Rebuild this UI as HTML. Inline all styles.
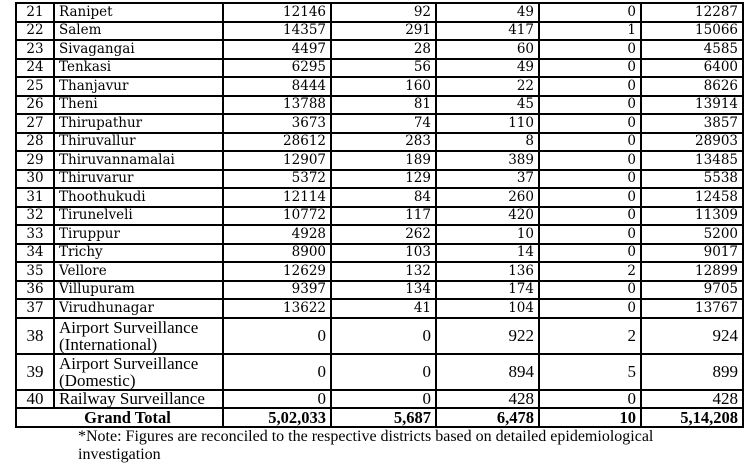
<!DOCTYPE html>
<html><head><style>
body{margin:0;width:754px;height:464px;background:#fff;overflow:hidden;position:relative}
table{position:absolute;left:15px;top:2px;border-collapse:collapse;table-layout:fixed;font-family:"DejaVu Serif","Liberation Serif",serif;font-size:13.5px;color:#000}
td{border:2px solid #000;padding:0 4px;height:16.5px;line-height:15px;white-space:nowrap;overflow:hidden}
td.n{text-align:center;padding:0}
td.r{text-align:right}
tr.b td{font-family:"Liberation Serif",serif;font-size:17px}
tr.t td{height:34px;line-height:17px}
tr.g td{font-weight:bold;height:17px;font-size:16.5px}
.note{position:absolute;left:78px;top:428px;font-family:"Liberation Serif",serif;font-size:16px;line-height:18px;color:#000;white-space:nowrap}
</style></head><body>
<table>
<colgroup><col style="width:38px"><col style="width:169px"><col style="width:108px"><col style="width:105px"><col style="width:103px"><col style="width:102px"><col style="width:102px"></colgroup>
<tr><td class="n">21</td><td>Ranipet</td><td class="r">12146</td><td class="r">92</td><td class="r">49</td><td class="r">0</td><td class="r">12287</td></tr>
<tr><td class="n">22</td><td>Salem</td><td class="r">14357</td><td class="r">291</td><td class="r">417</td><td class="r">1</td><td class="r">15066</td></tr>
<tr><td class="n">23</td><td>Sivagangai</td><td class="r">4497</td><td class="r">28</td><td class="r">60</td><td class="r">0</td><td class="r">4585</td></tr>
<tr><td class="n">24</td><td>Tenkasi</td><td class="r">6295</td><td class="r">56</td><td class="r">49</td><td class="r">0</td><td class="r">6400</td></tr>
<tr><td class="n">25</td><td>Thanjavur</td><td class="r">8444</td><td class="r">160</td><td class="r">22</td><td class="r">0</td><td class="r">8626</td></tr>
<tr><td class="n">26</td><td>Theni</td><td class="r">13788</td><td class="r">81</td><td class="r">45</td><td class="r">0</td><td class="r">13914</td></tr>
<tr><td class="n">27</td><td>Thirupathur</td><td class="r">3673</td><td class="r">74</td><td class="r">110</td><td class="r">0</td><td class="r">3857</td></tr>
<tr><td class="n">28</td><td>Thiruvallur</td><td class="r">28612</td><td class="r">283</td><td class="r">8</td><td class="r">0</td><td class="r">28903</td></tr>
<tr><td class="n">29</td><td>Thiruvannamalai</td><td class="r">12907</td><td class="r">189</td><td class="r">389</td><td class="r">0</td><td class="r">13485</td></tr>
<tr><td class="n">30</td><td>Thiruvarur</td><td class="r">5372</td><td class="r">129</td><td class="r">37</td><td class="r">0</td><td class="r">5538</td></tr>
<tr><td class="n">31</td><td>Thoothukudi</td><td class="r">12114</td><td class="r">84</td><td class="r">260</td><td class="r">0</td><td class="r">12458</td></tr>
<tr><td class="n">32</td><td>Tirunelveli</td><td class="r">10772</td><td class="r">117</td><td class="r">420</td><td class="r">0</td><td class="r">11309</td></tr>
<tr><td class="n">33</td><td>Tiruppur</td><td class="r">4928</td><td class="r">262</td><td class="r">10</td><td class="r">0</td><td class="r">5200</td></tr>
<tr><td class="n">34</td><td>Trichy</td><td class="r">8900</td><td class="r">103</td><td class="r">14</td><td class="r">0</td><td class="r">9017</td></tr>
<tr><td class="n">35</td><td>Vellore</td><td class="r">12629</td><td class="r">132</td><td class="r">136</td><td class="r">2</td><td class="r">12899</td></tr>
<tr><td class="n">36</td><td>Villupuram</td><td class="r">9397</td><td class="r">134</td><td class="r">174</td><td class="r">0</td><td class="r">9705</td></tr>
<tr><td class="n">37</td><td>Virudhunagar</td><td class="r">13622</td><td class="r">41</td><td class="r">104</td><td class="r">0</td><td class="r">13767</td></tr>
<tr class="b t"><td class="n">38</td><td>Airport Surveillance<br>(International)</td><td class="r">0</td><td class="r">0</td><td class="r">922</td><td class="r">2</td><td class="r">924</td></tr>
<tr class="b t"><td class="n">39</td><td>Airport Surveillance<br>(Domestic)</td><td class="r">0</td><td class="r">0</td><td class="r">894</td><td class="r">5</td><td class="r">899</td></tr>
<tr class="b"><td class="n">40</td><td>Railway Surveillance</td><td class="r">0</td><td class="r">0</td><td class="r">428</td><td class="r">0</td><td class="r">428</td></tr>
<tr class="b g"><td colspan="2" style="text-align:center;padding-left:20px">Grand Total</td><td class="r">5,02,033</td><td class="r">5,687</td><td class="r">6,478</td><td class="r">10</td><td class="r">5,14,208</td></tr>
</table>
<div class="note">*Note: Figures are reconciled to the respective districts based on detailed epidemiological<br>investigation</div>
</body></html>
